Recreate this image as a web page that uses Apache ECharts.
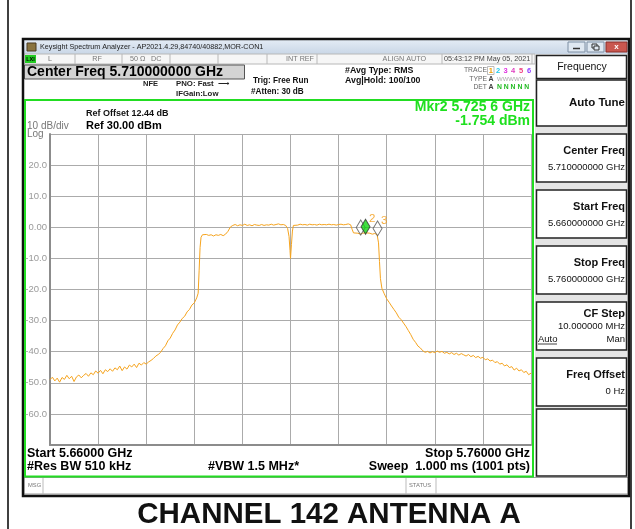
<!DOCTYPE html>
<html><head><meta charset="utf-8">
<script src="https://cdn.jsdelivr.net/npm/echarts@6/dist/echarts.min.js"></script>
<style>html,body{margin:0;padding:0;background:#fff}#c{width:635px;height:529px}</style>
</head><body><div id="c"></div>
<script>
// ---- data ----
const freqMHz = [
5660,5660.5,5661,5661.5,5662,5662.5,5663,5663.5,5664,5664.5,5665,5665.5,5666,5666.5,5667,5667.5,5668,5668.5,5669,5669.5,
5670,5670.5,5671,5671.5,5672,5672.5,5673,5673.5,5674,5674.5,5675,5675.5,5676,5676.5,5677,5677.5,5678,5678.5,5679,5679.5,
5680,5680.5,5681,5681.5,5682,5682.5,5683,5683.5,5684,5684.5,5685,5685.5,5686,5686.5,5687,5687.5,5688,5688.5,5689,5689.5,
5690,5690.5,5690.8,5691.0,5691.2,5691.4,5691.7,5692,5692.5,5693,5693.5,5694,5694.5,5695,5695.5,5696,5696.5,5697,5697.5,
5698,5698.5,5699,5699.5,5700,5700.5,5701,5701.5,5702,5702.5,5703,5703.5,5704,5704.5,5705,5705.5,5706,5706.5,5707,5707.5,
5708,5708.5,5709,5709.4,5709.7,5709.9,5710.0,5710.2,5710.4,5710.6,5711,5711.5,5712,5712.5,5713,5713.5,5714,5714.5,
5715,5715.5,5716,5716.5,5717,5717.5,5718,5718.5,5719,5719.5,5720,5720.5,5721,5721.5,5722,5722.5,5722.8,5723.1,5723.5,
5724,5724.5,5725,5725.6,5726,5726.5,5727,5727.5,5728,5728.3,5728.5,5728.7,5729.0,5729.5,5730,5730.5,5731,5731.5,
5732,5732.5,5733,5733.5,5734,5734.5,5735,5735.5,5736,5736.5,5737,5737.5,5738,5738.5,5739,5739.5,5740,5740.5,5741,5741.5,
5742,5742.5,5743,5743.5,5744,5744.5,5745,5745.5,5746,5746.5,5747,5747.5,5748,5748.5,5749,5749.5,5750,5750.5,5751,5751.5,
5752,5752.5,5753,5753.5,5754,5754.5,5755,5755.5,5756,5756.5,5757,5757.5,5758,5758.5,5759,5759.5,5760];
const levelDbm = [
-49.0,-48.2,-49.4,-48.5,-49.8,-48.3,-48.9,-47.6,-48.7,-47.9,-49.6,-48.1,-47.5,-48.4,-47.6,-47.0,-47.9,-46.8,-47.4,-46.2,
-46.9,-46.0,-47.1,-45.8,-46.4,-45.5,-46.3,-45.2,-45.8,-44.6,-46.1,-44.9,-45.6,-44.3,-44.9,-44.0,-45.1,-43.7,-44.3,-43.5,
-44.0,-43.3,-42.8,-42.2,-41.4,-40.9,-40.2,-39.0,-38.1,-36.5,-35.6,-34.1,-33.0,-31.4,-30.5,-29.3,-28.6,-27.2,-26.4,-25.0,
-24.3,-22.7,-21.2,-14.0,-6.5,-3.2,-2.4,-2.7,-2.3,-2.6,-2.4,-2.8,-2.4,-2.6,-2.3,-2.7,-2.2,-1.3,0.1,
0.6,0.9,0.5,0.8,0.6,1.0,0.6,0.8,0.5,0.9,0.7,0.6,0.9,0.6,0.8,0.7,1.0,0.7,0.9,1.1,
0.8,0.9,0.6,-0.4,-3.0,-7.5,-10.0,-5.5,-1.2,0.6,0.9,0.7,1.0,0.8,0.9,0.7,1.0,0.8,
0.9,0.7,1.0,0.8,0.9,0.8,1.0,0.8,0.9,0.7,0.9,1.0,0.8,0.9,1.1,0.8,-0.6,-1.8,-2.1,
-1.9,-2.2,-1.9,-1.754,-2.1,-1.9,-2.2,-2.0,-2.3,-5.0,-11.0,-16.5,-19.6,-21.4,-23.0,-24.1,-25.3,-26.4,
-27.5,-28.9,-29.7,-30.8,-31.9,-33.2,-34.5,-36.0,-37.0,-38.2,-38.8,-39.7,-40.2,-39.9,-40.4,-40.0,-40.3,-39.8,-40.2,-39.9,
-40.5,-40.2,-40.7,-40.3,-40.9,-40.5,-41.1,-40.6,-41.0,-41.4,-40.9,-41.6,-41.2,-41.9,-41.5,-42.1,-41.8,-42.6,-42.3,-43.0,
-42.7,-43.5,-43.2,-44.0,-43.7,-44.6,-44.2,-45.1,-44.8,-45.9,-45.3,-46.2,-45.8,-46.7,-46.3,-47.4,-46.9];
const markerNames = ['1','2','3'];
const markerFreqMHz = [5724.6, 5725.6, 5728.1];
const markerLevelDbm = [-2.0, -1.754, -2.3];
const yTickValues = [20,10,0,-10,-20,-30,-40,-50,-60];
const yTickLabels = ['20.0','10.0','0.00','-10.0','-20.0','-30.0','-40.0','-50.0','-60.0'];

// ---- chrome helpers ----
const FF = "'Liberation Sans', Arial, sans-serif";
const G = [];
function rect(x,y,w,h,fill,stroke,lw,z){G.push({type:'rect',z:z||1,shape:{x:x,y:y,width:w,height:h},style:{fill:fill||'none',stroke:stroke||'none',lineWidth:lw||1}});}
function ln(x1,y1,x2,y2,stroke,lw,z){G.push({type:'line',z:z||3,shape:{x1:x1,y1:y1,x2:x2,y2:y2},style:{stroke:stroke,lineWidth:lw||1}});}
function tx(x,y,t,size,fill,align,bold,z){G.push({type:'text',z:z||10,x:x,y:y,style:{text:t,font:(bold?'bold ':'')+size+'px '+FF,fill:fill||'#000',align:align||'left',textAlign:align||'left',verticalAlign:'middle',textVerticalAlign:'middle'}});}

// page frame
ln(8,0,8,529,'#000',1.5); ln(631,0,631,529,'#000',1.5);
// app window
rect(23,39,606,457,'none','#111',2.5,4);
// title bar
G.push({type:'rect',z:1,shape:{x:24,y:40,width:604,height:14},style:{fill:new echarts.graphic.LinearGradient(0,0,0,1,[{offset:0,color:'#e3ebf5'},{offset:1,color:'#c9d6e6'}])}});
rect(27,43,9,8,'#8a7440','#4a3a20',1,2);
tx(40,47.5,'Keysight Spectrum Analyzer - AP2021.4.29,84740/40882,MOR-CON1',7.2,'#222');
// window buttons
rect(568,42,17,10,'#dfe8f2','#7d8ea3',1,2); ln(573,48.5,580,48.5,'#333',1.5,3);
rect(587,42,17,10,'#dfe8f2','#7d8ea3',1,2); rect(592,44,5,4,'none','#333',1,3); rect(594,46,5,4,'#dfe8f2','#333',1,3);
rect(606,42,21,10,'#c9574f','#8a2f2a',1,2); tx(616.5,47,'x',8,'#fff','center',true);
// status row
rect(24,54,511,10,'#f6f6f6','#b8b8b8',1,1);
rect(25,55,11,8,'#22cc22','none',1,2); tx(30.5,59.2,'LXI',5.5,'#000','center',true);
[75,122,170,218,267,317,442,532].forEach(function(x){ln(x,54,x,64,'#b8b8b8',1,2);});
tx(50,59.5,'L',7.2,'#777','center'); tx(97,59.5,'RF',7.2,'#777','center');
tx(130,59.5,'50 Ω',7.2,'#777'); tx(151,59.5,'DC',7.2,'#777');
tx(314,59.5,'INT REF',7.2,'#777','right'); tx(426,59.5,'ALIGN AUTO',7.2,'#777','right');
tx(444,59.5,'05:43:12 PM May 05, 2021',7.2,'#444');
// center freq box
rect(24.5,65,220,14,'#d4d4d4','#555',1,1);
tx(27,72.3,'Center Freq 5.710000000 GHz',14,'#000','left',true);
tx(143,84,'NFE',7.5,'#222','left',true);
tx(176,84,'PNO: Fast',7.8,'#222','left',true);
tx(218,84,'⟶',8,'#222'); tx(176,94,'IFGain:Low',7.8,'#222','left',true);
tx(253,81,'Trig: Free Run',8.2,'#111','left',true);
tx(251,92,'#Atten: 30 dB',8.2,'#111','left',true);
tx(345,71,'#Avg Type: RMS',8.8,'#111','left',true);
tx(345,81,'Avg|Hold: 100/100',8.8,'#111','left',true);
tx(487,70.5,'TRACE',6.8,'#666','right');
rect(487.5,66.5,6.5,8,'none','#aaa',0.8,2);
tx(490.8,70.5,'1',7.5,'#f0a000','center',true);
tx(498,70.5,'2',7.5,'#20c8e8','center',true); tx(505.5,70.5,'3',7.5,'#e030e0','center',true);
tx(513,70.5,'4',7.5,'#e040c0','center',true); tx(521,70.5,'5',7.5,'#f04080','center',true);
tx(529,70.5,'6',7.5,'#9040ff','center',true);
tx(487,79,'TYPE',6.8,'#666','right'); tx(491,79,'A',7,'#444','center',true);
tx(497,79,'WWWWW',6,'#aaa','left');
tx(487,87,'DET',6.8,'#666','right'); tx(491,87,'A',7,'#444','center',true);
tx(497,87,'N N N N N',6.8,'#22bb22','left',true);
// green plot frame
rect(25,100,508,376.5,'none','#22dd22',2,4);
tx(86,114,'Ref Offset 12.44 dB',9,'#111','left',true);
tx(86,125.5,'Ref 30.00 dBm',11,'#000','left',true);
tx(27,126,'10 dB/div',10,'#777'); tx(27,134,'Log',10,'#777');
tx(530,107,'Mkr2 5.725 6 GHz',14,'#1ee01e','right',true);
tx(530,121.5,'-1.754 dBm',14,'#1ee01e','right',true);
tx(27,453.5,'Start 5.66000 GHz',12.5,'#000','left',true);
tx(530,453.5,'Stop 5.76000 GHz',12.5,'#000','right',true);
tx(27,467,'#Res BW 510 kHz',12.5,'#000','left',true);
tx(208,467,'#VBW 1.5 MHz*',12.5,'#000','left',true);
tx(530,467,'Sweep  1.000 ms (1001 pts)',12.5,'#000','right',true);
// message bar
rect(24,477.5,604,16.5,'#fff','#999',1,1);
ln(43,478,43,494,'#bbb',1); ln(406,478,406,494,'#bbb',1); ln(436,478,436,494,'#bbb',1);
tx(28,485.5,'MSG',5.8,'#777'); tx(409,485.5,'STATUS',5.8,'#777');
// right softkey panel
rect(535,54,93,423,'#e4e4e4','none',1,1);
function key(y,h){rect(536.5,y,90,h,'#fff','#222',1.5,2);}
key(55.5,23); tx(582,67,'Frequency',10.5,'#111','center');
key(80,46); tx(625,103,'Auto Tune',11.5,'#111','right',true);
key(134,48); tx(625,151,'Center Freq',11,'#111','right',true); tx(625,167,'5.710000000 GHz',9.5,'#111','right');
key(190,48); tx(625,207,'Start Freq',11,'#111','right',true); tx(625,223,'5.660000000 GHz',9.5,'#111','right');
key(246,48); tx(625,263,'Stop Freq',11,'#111','right',true); tx(625,279,'5.760000000 GHz',9.5,'#111','right');
key(302,48); tx(625,314,'CF Step',11,'#111','right',true); tx(625,326.5,'10.000000 MHz',9.5,'#111','right');
tx(538,339,'Auto',9.5,'#111'); ln(538,344,557,344,'#111',0.8,11); tx(625,339,'Man',9.5,'#111','right');
key(358,48); tx(625,375,'Freq Offset',11,'#111','right',true); tx(625,391,'0 Hz',9.5,'#111','right');
key(409,67);
// caption
tx(329,514.5,'CHANNEL 142 ANTENNA A',29.5,'#111','center',true);

// ---- chart ----
const chart = echarts.init(document.getElementById('c'), null, {renderer:'canvas'});
const gridLine = {lineStyle:{color:'#ababab',width:1}};
chart.setOption({
  animation:false,
  backgroundColor:'#fff',
  grid:{left:50,top:134,width:481,height:311,show:false},
  xAxis:{type:'value',min:5660,max:5760,interval:10,z:5,
    axisLabel:{show:false},axisTick:{show:false},
    axisLine:{show:true,onZero:false,lineStyle:{color:'#8c8c8c',width:2}},splitLine:gridLine},
  yAxis:{type:'value',min:-70,max:30,interval:10,z:5,
    axisTick:{show:false},axisLine:{show:true,onZero:false,lineStyle:{color:'#8c8c8c',width:2}},splitLine:gridLine,
    axisLabel:{margin:3,color:'#9a9a9a',fontSize:9.5,fontFamily:FF,
      formatter:function(v){const i=yTickValues.indexOf(v);return i<0?'':yTickLabels[i];}}},
  series:[
    {type:'line',z:6,data:freqMHz.map(function(f,i){return [f,levelDbm[i]];}),
     showSymbol:false,symbol:'none',lineStyle:{color:'#f6a41e',width:1},silent:true},
    {type:'scatter',z:7,symbol:'diamond',symbolSize:[9,15],symbolOffset:[0,-6],
     data:markerNames.map(function(n,i){
       const on = n==='2';
       return {value:[markerFreqMHz[i],markerLevelDbm[i]],name:n,
         itemStyle:on?{color:'#11d411',borderColor:'#333',borderWidth:1}:{color:'rgba(255,255,255,0.2)',borderColor:'#555',borderWidth:1},
         label:{show:n!=='1',formatter:n,position:[11.5,0.5],align:'center',verticalAlign:'middle',color:'#f29a10',fontSize:11.5,fontFamily:FF}};
     })}
  ],
  graphic:G
});
</script></body></html>
